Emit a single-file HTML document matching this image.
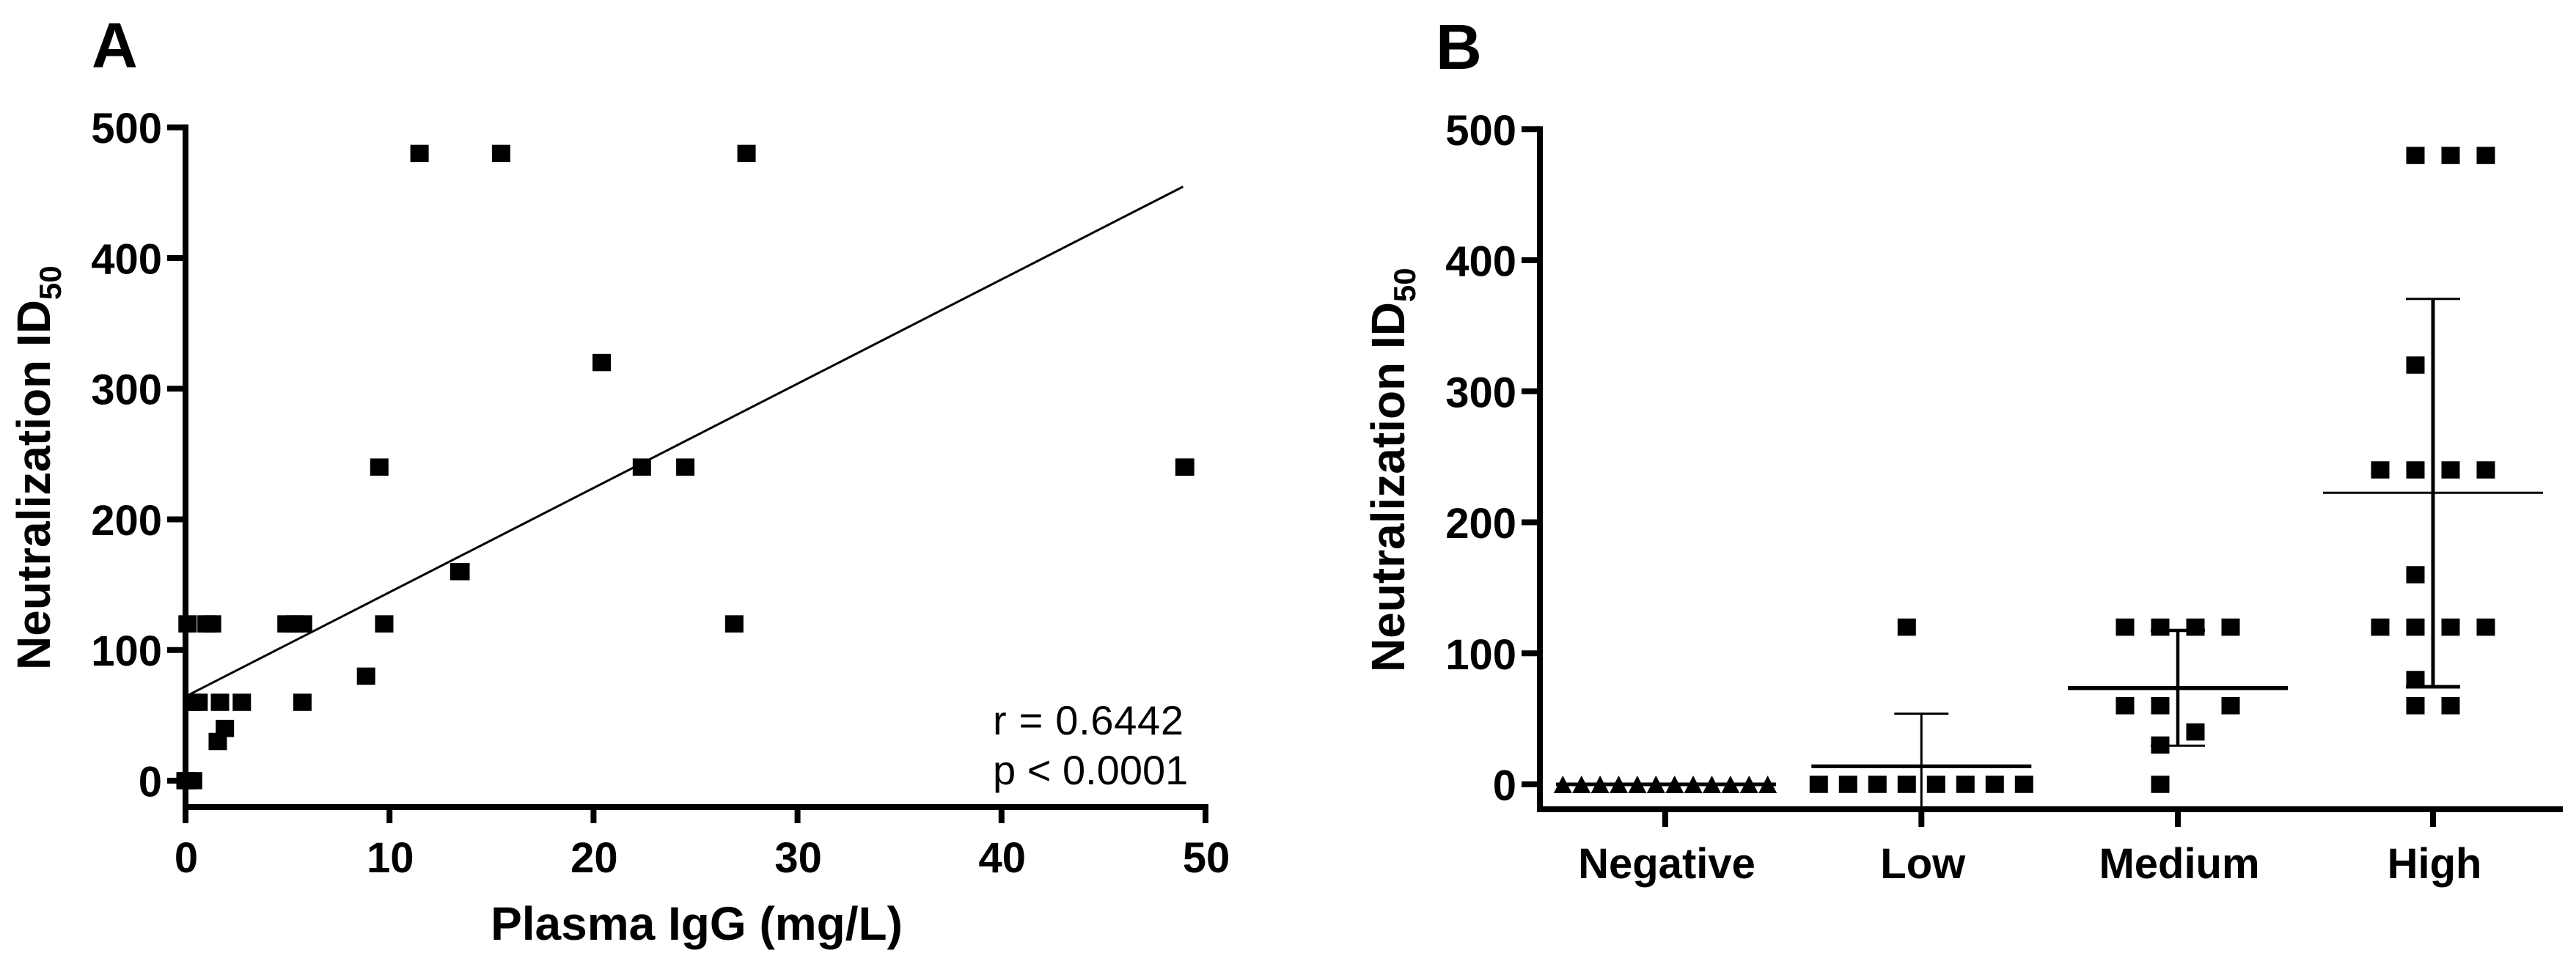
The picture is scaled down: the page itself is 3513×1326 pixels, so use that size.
<!DOCTYPE html>
<html lang="en">
<head>
<meta charset="utf-8">
<title>Neutralization ID50 vs Plasma IgG</title>
<style>
html,body{margin:0;padding:0;background:#fff;}
svg{display:block;}
text{font-family:"Liberation Sans",Arial,sans-serif;fill:#000;}
.bold{font-weight:bold;}
</style>
</head>
<body>
<svg id="figure" xmlns="http://www.w3.org/2000/svg" width="3513" height="1326" viewBox="0 0 3513 1326">
  <rect x="0" y="0" width="3513" height="1326" fill="#fff"/>
  <text class="bold" x="125" y="92" font-size="87">A</text>
  <text class="bold" x="1958" y="94" font-size="87">B</text>
  <g id="panelA"></g>
  <g id="panelB"></g>
  <text class="bold" transform="translate(68,914) rotate(-90)" font-size="64">Neutralization ID<tspan font-size="42" dy="15">50</tspan></text>
  <text class="bold" transform="translate(1915,917) rotate(-90)" font-size="64">Neutralization ID<tspan font-size="42" dy="15">50</tspan></text>
  <text class="bold" x="950" y="1282" font-size="64" text-anchor="middle">Plasma IgG (mg/L)</text>
  <text x="1354" y="1002" font-size="56" letter-spacing="0.7">r = 0.6442</text>
  <text x="1354" y="1070" font-size="56">p &lt; 0.0001</text>
</svg>
<script>
/* Panel A data */
const scatterIgG = [0.1, 1.03, 1.3, 4.95, 5.37, 5.76, 9.74, 0.33, 0.64, 1.69, 2.76, 5.73, 8.85, 1.93, 1.58, 0.0, 0.1, 0.37, 11.47, 15.47, 27.5, 20.4, 9.5, 22.37, 24.5, 48.97, 49.0, 26.9, 13.42, 13.48];
const scatterID50 = [120, 120, 120, 120, 120, 120, 120, 60, 60, 60, 60, 60, 80, 40, 30, 0, 0, 0, 480, 480, 480, 320, 240, 240, 240, 240, 240, 120, 160, 160];
const fitX = [0.2, 48.9];
const fitY = [66, 454.6];
const xTicksA = [0, 10, 20, 30, 40, 50];
const yTicks = [0, 100, 200, 300, 400, 500];

/* Panel B data */
const groupNames = ['Negative', 'Low', 'Medium', 'High'];
const negativeValues = [0, 0, 0, 0, 0, 0, 0, 0, 0, 0, 0, 0];
const negativeSlots = [-5.5, -4.5, -3.5, -2.5, -1.5, -0.5, 0.5, 1.5, 2.5, 3.5, 4.5, 5.5];
const lowValues = [120, 0, 0, 0, 0, 0, 0, 0, 0];
const lowSlots = [-0.5, -3.5, -2.5, -1.5, -0.5, 0.5, 1.5, 2.5, 3.5];
const mediumValues = [120, 120, 120, 120, 60, 60, 60, 40, 30, 0];
const mediumSlots = [-1.5, -0.5, 0.5, 1.5, -1.5, -0.5, 1.5, 0.5, -0.5, -0.5];
const highValues = [480, 480, 480, 320, 240, 240, 240, 240, 160, 120, 120, 120, 120, 80, 60, 60];
const highSlots = [-0.5, 0.5, 1.5, -0.5, -1.5, -0.5, 0.5, 1.5, -0.5, -1.5, -0.5, 0.5, 1.5, -0.5, -0.5, 0.5];
const groupMeans = [0, 13.8, 73.5, 222.5];
const groupSDs = [0, 40.1, 44, 148];

const NS = 'http://www.w3.org/2000/svg';
const MARK_W = 25, MARK_H = 23.5;
const AXIS_W = 8;

/* Panel A scales */
const xA = v => 253 + v * 27.82;
const yA = v => 1065 - v * 1.7826;
const axisYA = 1101;
/* Panel B scales */
const yB = v => 1070 - v * 1.7874;
const axisXB = 2100, axisYB = 1104;
const groupX = [2271, 2620.3, 2970, 3318];
const slotPitch = [25.4, 40, 48, 48];
const meanHalf = 150, capHalf = 37;
const meanStroke = [5, 5, 5.5, 3];
const stemStroke = [0, 3, 4.5, 5];
const capUpperStroke = [0, 3, 4.5, 3];
const capLowerStroke = [0, 3, 3, 5];

function make(tag, attrs, parent, text) {
  const el = document.createElementNS(NS, tag);
  for (const k in attrs) el.setAttribute(k, attrs[k]);
  if (text !== undefined) el.textContent = text;
  parent.appendChild(el);
  return el;
}
function line(x1, y1, x2, y2, w, parent) {
  return make('line', { x1: x1, y1: y1, x2: x2, y2: y2, stroke: '#000', 'stroke-width': w }, parent);
}
function square(cx, cy, parent) {
  return make('rect', { x: cx - MARK_W / 2, y: cy - MARK_H / 2, width: MARK_W, height: MARK_H, fill: '#000' }, parent);
}
function triangle(cx, cy, parent) {
  const pts = (cx) + ',' + (cy - 12) + ' ' + (cx - 12.5) + ',' + (cy + 12) + ' ' + (cx + 12.5) + ',' + (cy + 12);
  return make('polygon', { points: pts, fill: '#000' }, parent);
}

/* ---------- Panel A ---------- */
const gA = document.getElementById('panelA');
yTicks.forEach(v => {
  const t = line(228, yA(v), 253, yA(v), AXIS_W, gA);
  
  
  const l = make('text', { class: 'bold', x: 221, y: yA(v) + 21.5, 'font-size': 58, 'text-anchor': 'end' }, gA, String(v));
  
  
});
xTicksA.forEach(v => {
  const t = line(xA(v), axisYA, xA(v), 1123, AXIS_W, gA);
  
  
  const l = make('text', { class: 'bold', x: xA(v) + 1, y: 1190, 'font-size': 58, 'text-anchor': 'middle' }, gA, String(v));
  
  
});
const yAxisA = line(253, yA(500) - AXIS_W / 2, 253, 1123, AXIS_W, gA);


const xAxisA = line(249, axisYA, xA(50) + 4, axisYA, AXIS_W, gA);



const fitLine = line(xA(fitX[0]), yA(fitY[0]), xA(fitX[1]), yA(fitY[1]), 3, gA);



scatterIgG.forEach((v, i) => {
  const m = square(xA(v), yA(scatterID50[i]), gA);
  
  
});

/* ---------- Panel B ---------- */
const gB = document.getElementById('panelB');
yTicks.forEach(v => {
  const t = line(2075, yB(v), axisXB, yB(v), AXIS_W, gB);
  
  
  const l = make('text', { class: 'bold', x: 2068, y: yB(v) + 21.5, 'font-size': 58, 'text-anchor': 'end' }, gB, String(v));
  
  
});
groupNames.forEach((name, i) => {
  const t = line(groupX[i], axisYB, groupX[i], 1128, AXIS_W, gB);
  
  
  const l = make('text', { class: 'bold', x: groupX[i] + 2, y: 1198, 'font-size': 58, 'text-anchor': 'middle' }, gB, name);
  
  
});
const yAxisB = line(axisXB, yB(500) - AXIS_W / 2, axisXB, axisYB + AXIS_W / 2, AXIS_W, gB);


const xAxisB = line(axisXB - 4, axisYB, 3495, axisYB, AXIS_W, gB);



const groupValues = [negativeValues, lowValues, mediumValues, highValues];
const groupSlots = [negativeSlots, lowSlots, mediumSlots, highSlots];

groupValues.forEach((vals, g) => {
  vals.forEach((v, i) => {
    const cx = groupX[g] + groupSlots[g][i] * slotPitch[g];
    const m = g === 0 ? triangle(cx, yB(v), gB) : square(cx, yB(v), gB);
    
    
  });
});

groupMeans.forEach((mean, g) => {
  const cx = groupX[g] + (g === 0 ? 1 : 0);
  const upper = yB(mean + groupSDs[g]);
  const lowerRaw = yB(mean - groupSDs[g]);
  const lower = Math.min(lowerRaw, axisYB);
  const ml = line(cx - meanHalf, yB(mean), cx + meanHalf, yB(mean), meanStroke[g], gB);
  
  
  if (groupSDs[g] > 0) {
    const st = line(cx, upper, cx, lower, stemStroke[g], gB);
    
    
    const cu = line(cx - capHalf, upper, cx + capHalf, upper, capUpperStroke[g], gB);
    
    
    if (lowerRaw <= axisYB) {
      const cl = line(cx - capHalf, lower, cx + capHalf, lower, capLowerStroke[g], gB);
      
      
    }
  }
});
</script>
</body>
</html>
